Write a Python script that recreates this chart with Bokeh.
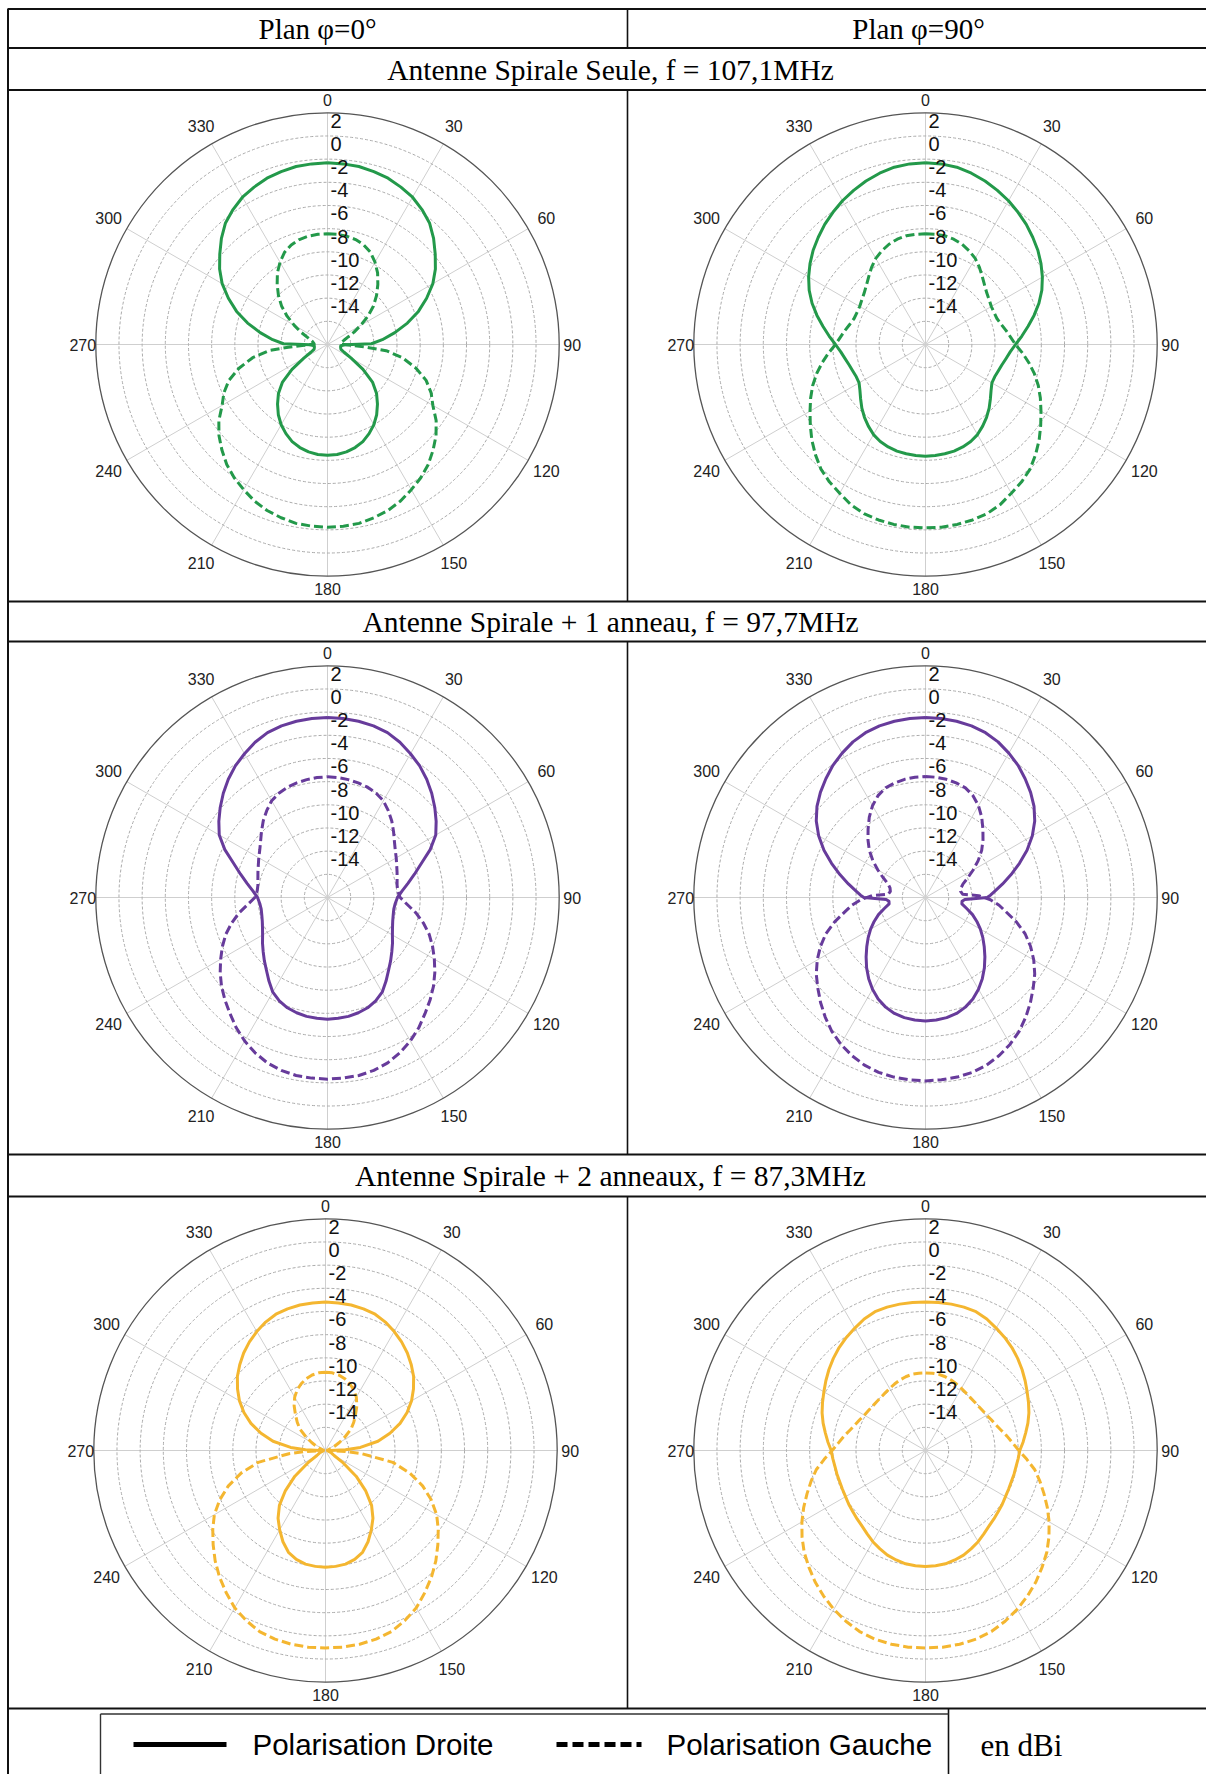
import numpy as np
from bokeh.plotting import figure
from bokeh.models import Range1d
from bokeh.embed import file_html
from bokeh.resources import INLINE
from bokeh.core.properties import value

# ---------------------------------------------------------------- data
COLUMN_TITLES = ["Plan \u03c6=0\u00b0", "Plan \u03c6=90\u00b0"]
ROW_TITLES = ["Antenne Spirale Seule, f = 107,1MHz",
              "Antenne Spirale + 1 anneau, f = 97,7MHz",
              "Antenne Spirale + 2 anneaux, f = 87,3MHz"]
LEGEND_LABELS = ["Polarisation Droite", "Polarisation Gauche"]
UNIT_LABEL = "en dBi"

ANGLE_TICKS = [0, 30, 60, 90, 120, 150, 180, 210, 240, 270, 300, 330]
RADIAL_TICKS = [2, 0, -2, -4, -6, -8, -10, -12, -14]
GRID_DB = [0, -2, -4, -6, -8, -10, -12, -14, -16]
R_MIN, R_MAX = -18, 2

SERIES_COLORS = ["#23994a", "#673b9b", "#f4b630"]

THETA_5 = [0, 5, 10, 15, 20, 25, 30, 35, 40, 45, 50, 55, 60, 65, 70, 75, 80, 85, 90,
           95, 100, 105, 110, 115, 120, 125, 130, 135, 140, 145, 150, 155, 160, 165, 170, 175, 180,
           185, 190, 195, 200, 205, 210, 215, 220, 225, 230, 235, 240, 245, 250, 255, 260, 265, 270,
           275, 280, 285, 290, 295, 300, 305, 310, 315, 320, 325, 330, 335, 340, 345, 350, 355, 360]

# --- Antenne spirale seule, plan phi=0
seule_phi0_droite_theta = [0, 5, 10, 15, 20, 25, 30, 35, 40, 45, 50, 55, 60, 65, 70, 75, 80, 85, 89, 91,
                           95, 100, 105, 110, 115, 120, 125, 130, 135, 140, 145, 150, 155, 160, 165,
                           170, 175, 180,
                           185, 190, 195, 200, 205, 210, 215, 220, 225, 230, 235, 240, 245, 250, 255,
                           260, 265, 269, 271, 275, 280, 285, 290, 295, 300, 305, 310, 315, 320, 325,
                           330, 335, 340, 345, 350, 355, 360]
seule_phi0_droite_db = [-2.32, -2.35, -2.40, -2.55, -2.72, -3.01, -3.32, -3.78, -4.30, -5.05, -5.86,
                        -6.63, -7.50, -8.56, -9.65, -10.86, -12.10, -13.25, -14.20, -16.50, -16.85,
                        -16.85, -16.82, -16.76, -16.42, -15.64, -14.26, -12.91, -12.01, -11.29, -10.60,
                        -10.00, -9.51, -9.08, -8.79, -8.59, -8.47, -8.45,
                        -8.47, -8.59, -8.79, -9.08, -9.51, -10.00, -10.60, -11.29, -12.01, -12.91,
                        -14.26, -15.64, -16.42, -16.76, -16.82, -16.85, -16.85, -16.50, -14.20, -13.25,
                        -12.10, -10.86, -9.65, -8.56, -7.50, -6.63, -5.86, -5.05, -4.30, -3.78, -3.32,
                        -3.01, -2.72, -2.55, -2.40, -2.35, -2.32]
seule_phi0_gauche_theta = [0, 5, 10, 15, 20, 25, 30, 35, 40, 45, 50, 55, 60, 65, 70, 75, 80, 85, 88, 92,
                           94, 96, 100, 105, 110, 115, 120, 125, 130, 135, 140, 145, 150, 155, 160, 165,
                           170, 175, 180,
                           185, 190, 195, 200, 205, 210, 215, 220, 225, 230, 235, 240, 245, 250, 255,
                           260, 264, 266, 268, 272, 275, 280, 285, 290, 295, 300, 305, 310, 315, 320,
                           325, 330, 335, 340, 345, 350, 355, 360]
seule_phi0_gauche_db = [-8.45, -8.45, -8.50, -8.62, -8.85, -9.22, -9.80, -10.46, -11.24, -12.01, -12.82,
                        -13.74, -14.69, -15.47, -16.13, -16.50, -16.71, -16.82, -16.85, -15.99, -14.60,
                        -12.91, -11.44, -10.09, -8.94, -8.13, -7.50, -6.55, -5.77, -5.11, -4.47, -3.96,
                        -3.53, -3.09, -2.75, -2.52, -2.32, -2.26, -2.23,
                        -2.26, -2.32, -2.52, -2.75, -3.09, -3.53, -3.96, -4.47, -5.11, -5.77, -6.55,
                        -7.50, -8.13, -8.94, -10.09, -11.44, -12.91, -14.60, -15.99, -16.85, -16.82,
                        -16.71, -16.50, -16.13, -15.47, -14.69, -13.74, -12.82, -12.01, -11.24, -10.46,
                        -9.80, -9.22, -8.85, -8.62, -8.50, -8.45, -8.45]

# --- Antenne spirale seule, plan phi=90
seule_phi90_droite_theta = THETA_5
seule_phi90_droite_db = [-2.32, -2.35, -2.46, -2.69, -2.98, -3.32, -3.67, -4.07, -4.47, -4.91, -5.34,
                         -5.83, -6.35, -6.92, -7.58, -8.30, -9.02, -9.65, -10.23, -10.66, -10.95,
                         -11.18, -11.32, -11.41, -11.38, -11.09, -10.69, -10.23, -9.80, -9.40, -9.02,
                         -8.76, -8.59, -8.47, -8.42, -8.39, -8.36,
                         -8.39, -8.42, -8.47, -8.59, -8.76, -9.02, -9.40, -9.80, -10.23, -10.69,
                         -11.09, -11.38, -11.41, -11.32, -11.18, -10.95, -10.66, -10.23, -9.65, -9.02,
                         -8.30, -7.58, -6.92, -6.35, -5.83, -5.34, -4.91, -4.47, -4.07, -3.67, -3.32,
                         -2.98, -2.69, -2.46, -2.35, -2.32]
seule_phi90_gauche_theta = THETA_5
seule_phi90_gauche_db = [-8.45, -8.45, -8.47, -8.59, -8.79, -9.08, -9.42, -9.88, -10.37, -10.78, -11.09,
                         -11.29, -11.44, -11.47, -11.44, -11.24, -10.95, -10.63, -10.23, -9.60, -8.94,
                         -8.27, -7.64, -7.06, -6.49, -5.86, -5.19, -4.56, -3.96, -3.53, -3.18, -2.75,
                         -2.46, -2.32, -2.23, -2.17, -2.17,
                         -2.17, -2.23, -2.32, -2.46, -2.75, -3.18, -3.53, -3.96, -4.56, -5.19, -5.86,
                         -6.49, -7.06, -7.64, -8.27, -8.94, -9.60, -10.23, -10.63, -10.95, -11.24,
                         -11.44, -11.47, -11.44, -11.29, -11.09, -10.78, -10.37, -9.88, -9.42, -9.08,
                         -8.79, -8.59, -8.47, -8.45, -8.45]

# --- Antenne spirale + 1 anneau, plan phi=0
un_phi0_droite_theta = THETA_5
un_phi0_droite_db = [-2.46, -2.49, -2.55, -2.66, -2.86, -3.21, -3.67, -4.13, -4.68, -5.28, -5.91, -6.55,
                     -7.21, -8.22, -9.37, -10.23, -10.95, -11.53, -11.96, -12.13, -12.19, -12.13,
                     -12.01, -11.81, -11.53, -11.15, -10.75, -10.29, -9.80, -9.19, -8.56, -8.16, -7.87,
                     -7.70, -7.58, -7.53, -7.50,
                     -7.53, -7.58, -7.70, -7.87, -8.16, -8.56, -9.19, -9.80, -10.29, -10.75, -11.15,
                     -11.53, -11.81, -12.01, -12.13, -12.19, -12.13, -11.96, -11.53, -10.95, -10.23,
                     -9.37, -8.22, -7.21, -6.55, -5.91, -5.28, -4.68, -4.13, -3.67, -3.21, -2.86,
                     -2.66, -2.55, -2.49, -2.46]
un_phi0_gauche_theta = THETA_5
un_phi0_gauche_db = [-7.58, -7.61, -7.67, -7.76, -7.87, -8.07, -8.36, -8.85, -9.37, -9.94, -10.46,
                     -10.86, -11.15, -11.41, -11.61, -11.78, -11.90, -11.90, -11.73, -11.09, -10.23,
                     -9.42, -8.65, -7.99, -7.35, -6.69, -6.06, -5.48, -4.91, -4.27, -3.70, -3.21,
                     -2.81, -2.55, -2.40, -2.35, -2.32,
                     -2.35, -2.40, -2.55, -2.81, -3.21, -3.70, -4.27, -4.91, -5.48, -6.06, -6.69,
                     -7.35, -7.99, -8.65, -9.42, -10.23, -11.09, -11.73, -11.90, -11.90, -11.78,
                     -11.61, -11.41, -11.15, -10.86, -10.46, -9.94, -9.37, -8.85, -8.36, -8.07, -7.87,
                     -7.76, -7.67, -7.61, -7.58]

# --- Antenne spirale + 1 anneau, plan phi=90
un_phi90_droite_theta = [0, 5, 10, 15, 20, 25, 30, 35, 40, 45, 50, 55, 60, 65, 70, 75, 80, 85, 88, 90,
                         93, 96, 100, 105, 110, 115, 120, 125, 130, 135, 140, 145, 150, 155, 160, 165,
                         170, 175, 180,
                         185, 190, 195, 200, 205, 210, 215, 220, 225, 230, 235, 240, 245, 250, 255,
                         260, 264, 267, 270, 272, 275, 280, 285, 290, 295, 300, 305, 310, 315, 320,
                         325, 330, 335, 340, 345, 350, 355, 360]
un_phi90_droite_db = [-2.46, -2.49, -2.55, -2.66, -2.86, -3.18, -3.61, -4.07, -4.62, -5.17, -5.77,
                      -6.49, -7.35, -8.33, -9.37, -10.35, -11.24, -12.01, -12.39, -12.68, -14.60,
                      -14.83, -14.81, -14.32, -13.68, -13.11, -12.53, -11.96, -11.38, -10.75, -10.09,
                      -9.45, -8.85, -8.33, -7.93, -7.64, -7.47, -7.38, -7.35,
                      -7.38, -7.47, -7.64, -7.93, -8.33, -8.85, -9.45, -10.09, -10.75, -11.38, -11.96,
                      -12.53, -13.11, -13.68, -14.32, -14.81, -14.83, -14.60, -12.68, -12.39, -12.01,
                      -11.24, -10.35, -9.37, -8.33, -7.35, -6.49, -5.77, -5.17, -4.62, -4.07, -3.61,
                      -3.18, -2.86, -2.66, -2.55, -2.49, -2.46]
un_phi90_gauche_theta = [0, 5, 10, 15, 20, 25, 30, 35, 40, 45, 50, 55, 60, 65, 70, 75, 80, 85, 88, 92,
                         96, 100, 105, 110, 115, 120, 125, 130, 135, 140, 145, 150, 155, 160, 165, 170,
                         175, 180,
                         185, 190, 195, 200, 205, 210, 215, 220, 225, 230, 235, 240, 245, 250, 255,
                         260, 264, 268, 272, 275, 280, 285, 290, 295, 300, 305, 310, 315, 320, 325,
                         330, 335, 340, 345, 350, 355, 360]
un_phi90_gauche_db = [-7.55, -7.58, -7.64, -7.76, -7.93, -8.30, -8.85, -9.54, -10.29, -10.98, -11.67,
                      -12.45, -13.25, -13.97, -14.55, -14.83, -14.92, -14.78, -13.40, -12.39, -11.61,
                      -10.95, -9.88, -8.85, -7.99, -7.21, -6.49, -5.86, -5.19, -4.53, -3.90, -3.38,
                      -2.95, -2.60, -2.37, -2.26, -2.20, -2.17,
                      -2.20, -2.26, -2.37, -2.60, -2.95, -3.38, -3.90, -4.53, -5.19, -5.86, -6.49,
                      -7.21, -7.99, -8.85, -9.88, -10.95, -11.61, -12.39, -13.40, -14.78, -14.92,
                      -14.83, -14.55, -13.97, -13.25, -12.45, -11.67, -10.98, -10.29, -9.54, -8.85,
                      -8.30, -7.93, -7.76, -7.64, -7.58, -7.55]

# --- Antenne spirale + 2 anneaux, plan phi=0
deux_phi0_droite_theta = [0, 5, 10, 15, 20, 25, 30, 35, 40, 45, 50, 55, 60, 65, 70, 75, 80, 85, 88, 90,
                          95, 100, 105, 110, 115, 120, 125, 130, 135, 140, 145, 150, 155, 160, 165, 170,
                          175, 180,
                          185, 190, 195, 200, 205, 210, 215, 220, 225, 230, 235, 240, 245, 250, 255,
                          260, 265, 270, 272, 275, 280, 285, 290, 295, 300, 305, 310, 315, 320, 325,
                          330, 335, 340, 345, 350, 355, 360]
deux_phi0_droite_db = [-5.19, -5.22, -5.25, -5.34, -5.48, -5.77, -6.14, -6.55, -7.01, -7.53, -8.07,
                       -8.73, -9.42, -10.23, -11.15, -12.24, -13.40, -14.98, -16.27, -17.57, -17.77,
                       -17.80, -17.71, -17.51, -17.37, -17.14, -16.13, -14.55, -13.11, -11.81, -10.86,
                       -10.09, -9.31, -8.65, -8.27, -8.04, -7.96, -7.93,
                       -7.96, -8.04, -8.27, -8.65, -9.31, -10.09, -10.86, -11.81, -13.11, -14.55,
                       -16.13, -17.14, -17.37, -17.51, -17.71, -17.80, -17.77, -17.57, -16.27, -14.98,
                       -13.40, -12.24, -11.15, -10.23, -9.42, -8.73, -8.07, -7.53, -7.01, -6.55, -6.14,
                       -5.77, -5.48, -5.34, -5.25, -5.22, -5.19]
deux_phi0_gauche_theta = [0, 5, 10, 15, 20, 25, 30, 35, 40, 45, 50, 55, 60, 65, 70, 75, 80, 85, 90, 93,
                          95, 100, 105, 110, 115, 120, 125, 130, 135, 140, 145, 150, 155, 160, 165, 170,
                          175, 180,
                          185, 190, 195, 200, 205, 210, 215, 220, 225, 230, 235, 240, 245, 250, 255,
                          260, 265, 267, 270, 275, 280, 285, 290, 295, 300, 305, 310, 315, 320, 325,
                          330, 335, 340, 345, 350, 355, 360]
deux_phi0_gauche_db = [-11.24, -11.27, -11.38, -11.58, -11.87, -12.22, -12.68, -13.28, -13.97, -14.55,
                       -15.12, -15.93, -16.62, -17.14, -17.51, -17.71, -17.83, -17.80, -17.71, -16.27,
                       -14.83, -12.10, -10.46, -9.08, -7.93, -6.92, -6.12, -5.34, -4.53, -3.76, -3.04,
                       -2.32, -1.80, -1.37, -1.14, -1.02, -0.96, -0.96,
                       -0.96, -1.02, -1.14, -1.37, -1.80, -2.32, -3.04, -3.76, -4.53, -5.34, -6.12,
                       -6.92, -7.93, -9.08, -10.46, -12.10, -14.83, -16.27, -17.71, -17.80, -17.83,
                       -17.71, -17.51, -17.14, -16.62, -15.93, -15.12, -14.55, -13.97, -13.28, -12.68,
                       -12.22, -11.87, -11.58, -11.38, -11.27, -11.24]

# --- Antenne spirale + 2 anneaux, plan phi=90
deux_phi90_droite_theta = THETA_5
deux_phi90_droite_db = [-5.19, -5.17, -5.17, -5.19, -5.25, -5.48, -5.80, -6.09, -6.40, -6.75, -7.12,
                        -7.50, -7.87, -8.19, -8.50, -8.85, -9.22, -9.54, -9.86, -9.97, -10.06, -10.09,
                        -10.12, -10.09, -10.03, -9.91, -9.80, -9.65, -9.48, -9.22, -8.91, -8.65, -8.39,
                        -8.22, -8.07, -8.01, -7.99,
                        -8.01, -8.07, -8.22, -8.39, -8.65, -8.91, -9.22, -9.48, -9.65, -9.80, -9.91,
                        -10.03, -10.09, -10.12, -10.09, -10.06, -9.97, -9.86, -9.54, -9.22, -8.85,
                        -8.50, -8.19, -7.87, -7.50, -7.12, -6.75, -6.40, -6.09, -5.80, -5.48, -5.25,
                        -5.19, -5.17, -5.17, -5.19]
deux_phi90_gauche_theta = THETA_5
deux_phi90_gauche_db = [-11.30, -11.30, -11.32, -11.41, -11.53, -11.67, -11.81, -11.93, -12.01, -12.04,
                        -12.04, -11.99, -11.90, -11.73, -11.53, -11.24, -10.86, -10.46, -9.94, -9.22,
                        -8.42, -7.78, -7.12, -6.40, -5.68, -4.99, -4.33, -3.76, -3.18, -2.66, -2.17,
                        -1.74, -1.37, -1.14, -1.02, -0.96, -0.96,
                        -0.96, -1.02, -1.14, -1.37, -1.74, -2.17, -2.66, -3.18, -3.76, -4.33, -4.99,
                        -5.68, -6.40, -7.12, -7.78, -8.42, -9.22, -9.94, -10.46, -10.86, -11.24,
                        -11.53, -11.73, -11.90, -11.99, -12.04, -12.04, -12.01, -11.93, -11.81, -11.67,
                        -11.53, -11.41, -11.32, -11.30, -11.30]

PANELS = [
    (seule_phi0_droite_theta, seule_phi0_droite_db, seule_phi0_gauche_theta, seule_phi0_gauche_db, 0),
    (seule_phi90_droite_theta, seule_phi90_droite_db, seule_phi90_gauche_theta, seule_phi90_gauche_db, 0),
    (un_phi0_droite_theta, un_phi0_droite_db, un_phi0_gauche_theta, un_phi0_gauche_db, 1),
    (un_phi90_droite_theta, un_phi90_droite_db, un_phi90_gauche_theta, un_phi90_gauche_db, 1),
    (deux_phi0_droite_theta, deux_phi0_droite_db, deux_phi0_gauche_theta, deux_phi0_gauche_db, 2),
    (deux_phi90_droite_theta, deux_phi90_droite_db, deux_phi90_gauche_theta, deux_phi90_gauche_db, 2),
]

# ---------------------------------------------------------------- layout (page pixels)
W, H = 1206, 1774
PANEL_CENTERS = [(327, 344), (925, 344), (327, 897), (925, 897), (325, 1450), (925, 1450)]
R_PX = 231.7

SANS = value("Liberation Sans")
SERIF = value("Liberation Serif")

p = figure(width=W, height=H, output_backend="svg", toolbar_location=None,
           x_range=Range1d(0, W), y_range=Range1d(H, 0),
           min_border=0, outline_line_color=None, background_fill_color="white",
           border_fill_color="white")
p.axis.visible = False
p.grid.visible = False


def rpix(db):
    d = np.clip(np.asarray(db, dtype=float), R_MIN, R_MAX)
    return (d - R_MIN) / (R_MAX - R_MIN) * R_PX


def to_xy(cx, cy, theta, db):
    t = np.radians(np.asarray(theta, dtype=float))
    r = rpix(db)
    return cx + r * np.sin(t), cy - r * np.cos(t)


for (cx, cy), (td, dd, tg, dg, ci) in zip(PANEL_CENTERS, PANELS):
    a = np.radians(ANGLE_TICKS)
    p.segment(x0=[cx] * len(a), y0=[cy] * len(a), x1=cx + R_PX * np.sin(a), y1=cy - R_PX * np.cos(a),
              line_color="#cfcfcf", line_width=1)
    radii = rpix(GRID_DB)
    p.circle(x=[cx] * len(radii), y=[cy] * len(radii), radius=radii, fill_color=None,
             line_color="#ababab", line_width=1, line_dash="3 2")
    p.circle(x=[cx], y=[cy], radius=[R_PX], fill_color=None, line_color="#555555", line_width=1.3)
    col = SERIES_COLORS[ci]
    xg, yg = to_xy(cx, cy, tg, dg)
    p.line(xg, yg, line_color=col, line_width=3, line_dash="9 4", line_join="round")
    xd, yd = to_xy(cx, cy, td, dd)
    p.line(xd, yd, line_color=col, line_width=3, line_join="round")
    lab_r = np.array([R_PX + 13 if t % 90 == 0 else R_PX + 21 for t in ANGLE_TICKS])
    p.text(x=cx + lab_r * np.sin(a), y=cy - lab_r * np.cos(a), text=[str(t) for t in ANGLE_TICKS],
           text_font=SANS, text_font_size="16px", text_color="#222222",
           text_align="center", text_baseline="middle")
    rr = rpix(RADIAL_TICKS)
    p.text(x=[cx + 3] * len(rr), y=cy - rr + 1, text=[str(v) for v in RADIAL_TICKS],
           text_font=SANS, text_font_size="20px", text_color="#111111",
           text_align="left", text_baseline="top")

# ---------------------------------------------------------------- table
LINE = "#111111"
h_lines = [8.5, 47.5, 89.5, 601, 641, 1154, 1196, 1708]
p.segment(x0=[7] * len(h_lines), y0=h_lines, x1=[W] * len(h_lines), y1=h_lines,
          line_color=LINE, line_width=2)
p.segment(x0=[7.5], y0=[8.5], x1=[7.5], y1=[H], line_color=LINE, line_width=2)
v_spans = [(8.5, 47.5), (89.5, 601), (641, 1154), (1196, 1708)]
p.segment(x0=[627] * 4, y0=[s[0] for s in v_spans], x1=[627] * 4, y1=[s[1] for s in v_spans],
          line_color=LINE, line_width=1.6)
p.segment(x0=[948], y0=[1708], x1=[948], y1=[H], line_color=LINE, line_width=1.6)
p.segment(x0=[100, 100], y0=[1713.5, 1713.5], x1=[948, 100], y1=[1713.5, H],
          line_color="#333333", line_width=1.4)

p.text(x=[317, 918], y=[28.5, 28.5], text=COLUMN_TITLES, text_font=SERIF, text_font_size="29px",
       text_color="#000000", text_align="center", text_baseline="middle")
p.text(x=[610, 610, 610], y=[69, 621.5, 1175.5], text=ROW_TITLES, text_font=SERIF,
       text_font_size="29.5px", text_color="#000000", text_align="center", text_baseline="middle")

p.segment(x0=[133], y0=[1744], x1=[226], y1=[1744], line_color="#000000", line_width=5)
p.segment(x0=[556], y0=[1744], x1=[641], y1=[1744], line_color="#000000", line_width=5,
          line_dash="11 5")
p.text(x=[252, 666], y=[1744, 1744], text=LEGEND_LABELS, text_font=SANS, text_font_size="29.5px",
       text_color="#000000", text_align="left", text_baseline="middle")
p.text(x=[980], y=[1745], text=[UNIT_LABEL], text_font=SERIF, text_font_size="31px",
       text_color="#000000", text_align="left", text_baseline="middle")

open("out.html", "w").write(file_html(p, INLINE))
